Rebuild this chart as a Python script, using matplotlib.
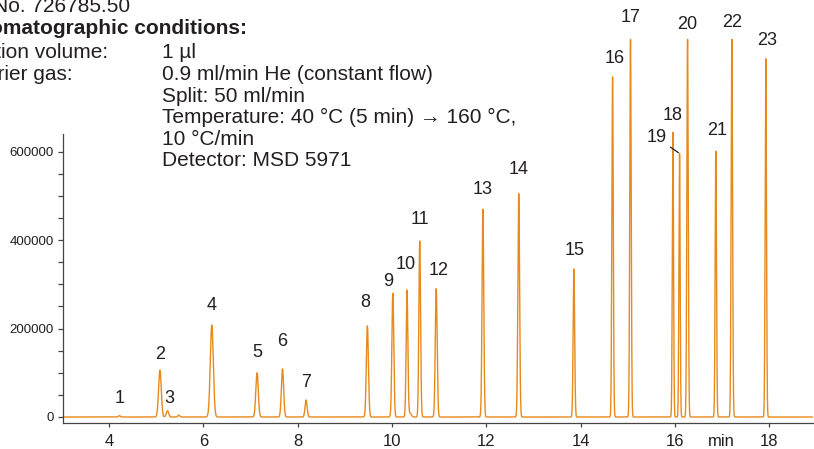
import matplotlib
matplotlib.use("Agg")
import matplotlib.pyplot as plt
import numpy as np
from matplotlib.ticker import FixedLocator

# peak data (retention time in min, abundance)
peak_labels = ["1", "2", "3", "", "4", "5", "6", "7", "8", "9", "10", "", "11", "12",
               "13", "14", "15", "16", "17", "18", "19", "20", "21", "22", "23"]
peak_times = [4.22, 5.08, 5.24, 5.48, 6.18, 7.14, 7.68, 8.18, 9.48, 10.02, 10.32, 10.38,
              10.59, 10.94, 11.93, 12.69, 13.86, 14.68, 15.06, 15.96, 16.10, 16.27,
              16.87, 17.21, 17.93]
peak_heights = [3000, 106000, 14000, 4000, 208000, 100000, 109000, 38500, 206000,
                280000, 286000, 9000, 398000, 290000, 470000, 505000, 334500, 769000,
                854000, 644000, 596000, 854000, 601000, 854000, 810000]
peak_sigmas = [0.02, 0.028, 0.025, 0.02, 0.032, 0.026, 0.024, 0.022, 0.022, 0.02, 0.018, 0.03,
               0.018, 0.02, 0.018, 0.018, 0.016, 0.015, 0.015, 0.013, 0.013, 0.015,
               0.014, 0.015, 0.014]

x_ticks = [4, 6, 8, 10, 12, 14, 16, 18]
y_ticks = [0, 200000, 400000, 600000]

# label offsets from the peak top, in pixels
label_offsets = [(0, 17), (0, 16), (2, 12), (0, 0), (0, 20), (0, 20), (0, 27), (0, 17),
                 (-2, 23), (-5, 12), (-1, 26), (0, 0), (0, 22), (2, 18), (0, 20), (0, 24),
                 (1, 19), (2, 18), (0, 22), (0, 17), (-23, 16), (0, 15), (1, 21), (0, 17),
                 (1, 18)]

orange = "#E8891C"
dark = "#231F20"

plt.rcParams['font.family'] = ['Liberation Sans', 'DejaVu Sans']

W, H = 814, 449
fig = plt.figure(figsize=(W / 100, H / 100), dpi=100)
ax = fig.add_axes([63.3 / W, 1 - 423.3 / H, 1 - 63.3 / W, 423.3 / H])

# build the trace from the peak list
t = np.arange(3.03, 18.92, 0.002)
signal = np.zeros_like(t)
for t0, h, s in zip(peak_times, peak_heights, peak_sigmas):
    signal += h * np.exp(-0.5 * ((t - t0) / s) ** 2)
ax.plot(t, signal, color=orange, lw=1.0, clip_on=False)

ax.set_xlim(3.031, 18.952)
ax.set_ylim(-14250, 943000)

for sp in ["top", "right"]:
    ax.spines[sp].set_visible(False)
ax.spines["left"].set_bounds(-14250, 640000)
for sp in ["left", "bottom"]:
    ax.spines[sp].set_color("#444444")
    ax.spines[sp].set_linewidth(0.9)

ax.set_xticks(x_ticks)
ax.set_xticklabels([str(v) for v in x_ticks], fontsize=12, color=dark)
ax.set_yticks(y_ticks)
ax.set_yticklabels([str(v) for v in y_ticks], fontsize=9.5, color=dark)
ax.yaxis.set_minor_locator(FixedLocator(np.arange(0, 600001, 50000)))
ax.tick_params(axis="x", direction="out", length=3, width=0.9, color="#444444", pad=4.5)
ax.tick_params(axis="y", which="both", direction="out", length=3.6, width=0.9,
               color="#444444", pad=3.5)

# peak labels
for lab, t0, h, off in zip(peak_labels, peak_times, peak_heights, label_offsets):
    if not lab:
        continue
    if lab == "19":
        ax.annotate(lab, xy=(t0, h), xytext=off, textcoords="offset pixels",
                    ha="center", va="center", fontsize=13, color=dark,
                    arrowprops=dict(arrowstyle="-", color=dark, lw=0.9,
                                    shrinkA=1, shrinkB=1))
    else:
        ax.annotate(lab, xy=(t0, h), xytext=off, textcoords="offset pixels",
                    ha="center", va="center", fontsize=13, color=dark)

ax.annotate("min", xy=(16.995, 1 - 446.5 / H), xycoords=("data", "figure fraction"),
            ha="center", va="baseline", fontsize=12, color=dark, annotation_clip=False)

# method text block (cut off at the left edge as in the original)
def ftext(x, y, s, **kw):
    fig.text(x / W, 1 - y / H, s, va="baseline", fontsize=15, color=dark, **kw)

ftext(130, 12, "Cat. No. 726785.50", ha="right")
ftext(247, 34.5, "Chromatographic conditions:", ha="right", fontweight="bold")
ftext(108.3, 58, "Injection volume:", ha="right")
ftext(72.3, 80, "Carrier gas:", ha="right")
ftext(162, 58, "1 µl")
ftext(162, 80, "0.9 ml/min He (constant flow)")
ftext(162, 101.5, "Split: 50 ml/min")
ftext(162, 123.3, "Temperature: 40 °C (5 min) \u2192 160 °C,")
ftext(162, 145, "10 °C/min")
ftext(162, 166, "Detector: MSD 5971")

fig.savefig("out.png", dpi=100)
